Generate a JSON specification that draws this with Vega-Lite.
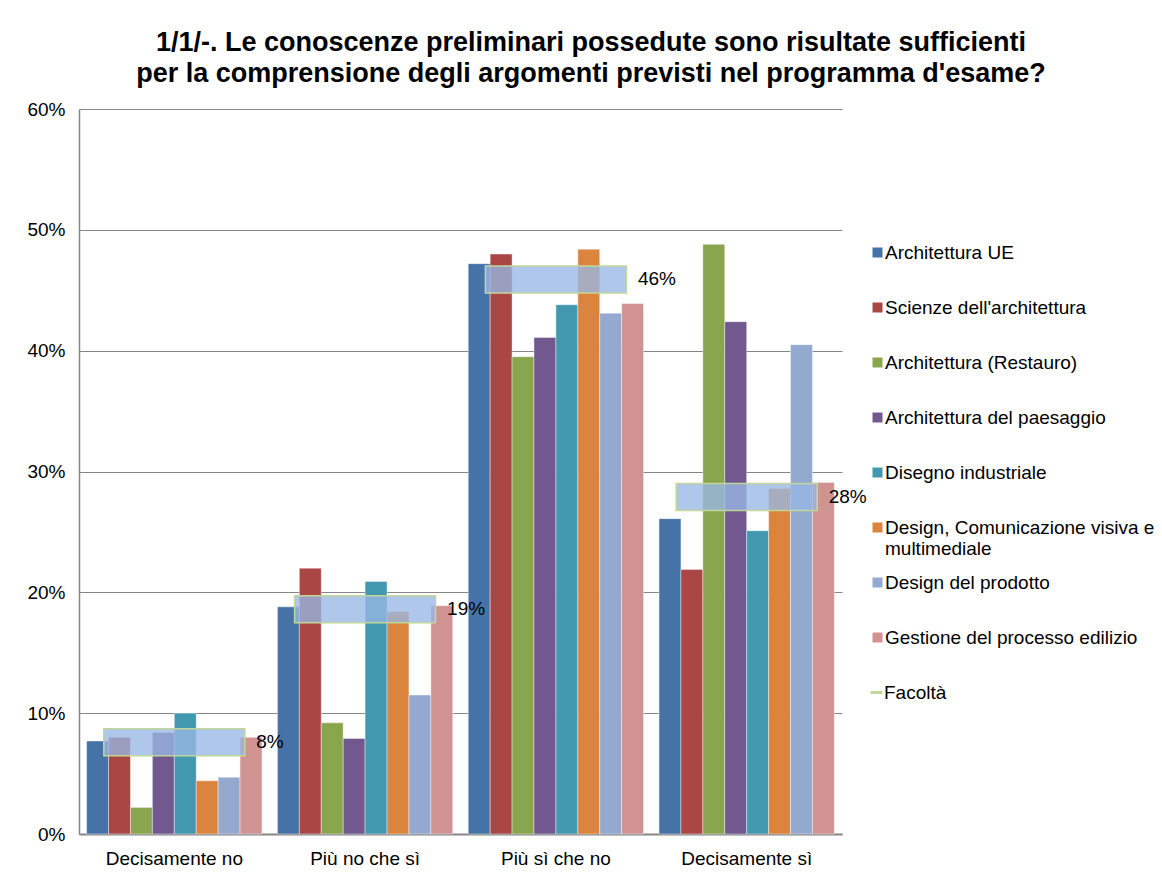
{
  "$schema": "https://vega.github.io/schema/vega-lite/v6.json",
  "width": 763,
  "height": 725,
  "autosize": {"type": "none"},
  "padding": {"left": 79, "top": 109, "right": 320, "bottom": 43},
  "background": "white",
  "title": {
    "text": ["1/1/-. Le conoscenze preliminari possedute sono risultate sufficienti", "per la comprensione degli argomenti previsti nel programma d'esame?"],
    "fontSize": 27, "font": "Liberation Sans", "fontWeight": "bold", "color": "black",
    "anchor": "middle", "frame": "bounds", "lineHeight": 31, "offset": 12
  },
  "config": {
    "view": {"stroke": null},
    "font": "Liberation Sans",
    "legend": {"labelFont": "Liberation Sans", "labelFontSize": 19, "labelColor": "black", "padding": 0}
  },
  "layer": [
    {
      "data": {"values": [
        {"risposta": "Decisamente no", "corso": "Architettura UE", "valore": 0.077},
        {"risposta": "Decisamente no", "corso": "Scienze dell'architettura", "valore": 0.080},
        {"risposta": "Decisamente no", "corso": "Architettura (Restauro)", "valore": 0.022},
        {"risposta": "Decisamente no", "corso": "Architettura del paesaggio", "valore": 0.084},
        {"risposta": "Decisamente no", "corso": "Disegno industriale", "valore": 0.100},
        {"risposta": "Decisamente no", "corso": "Design, Comunicazione visiva e multimediale", "valore": 0.044},
        {"risposta": "Decisamente no", "corso": "Design del prodotto", "valore": 0.047},
        {"risposta": "Decisamente no", "corso": "Gestione del processo edilizio", "valore": 0.080},
        {"risposta": "Più no che sì", "corso": "Architettura UE", "valore": 0.188},
        {"risposta": "Più no che sì", "corso": "Scienze dell'architettura", "valore": 0.220},
        {"risposta": "Più no che sì", "corso": "Architettura (Restauro)", "valore": 0.092},
        {"risposta": "Più no che sì", "corso": "Architettura del paesaggio", "valore": 0.079},
        {"risposta": "Più no che sì", "corso": "Disegno industriale", "valore": 0.209},
        {"risposta": "Più no che sì", "corso": "Design, Comunicazione visiva e multimediale", "valore": 0.184},
        {"risposta": "Più no che sì", "corso": "Design del prodotto", "valore": 0.115},
        {"risposta": "Più no che sì", "corso": "Gestione del processo edilizio", "valore": 0.189},
        {"risposta": "Più sì che no", "corso": "Architettura UE", "valore": 0.472},
        {"risposta": "Più sì che no", "corso": "Scienze dell'architettura", "valore": 0.480},
        {"risposta": "Più sì che no", "corso": "Architettura (Restauro)", "valore": 0.395},
        {"risposta": "Più sì che no", "corso": "Architettura del paesaggio", "valore": 0.411},
        {"risposta": "Più sì che no", "corso": "Disegno industriale", "valore": 0.438},
        {"risposta": "Più sì che no", "corso": "Design, Comunicazione visiva e multimediale", "valore": 0.484},
        {"risposta": "Più sì che no", "corso": "Design del prodotto", "valore": 0.431},
        {"risposta": "Più sì che no", "corso": "Gestione del processo edilizio", "valore": 0.439},
        {"risposta": "Decisamente sì", "corso": "Architettura UE", "valore": 0.261},
        {"risposta": "Decisamente sì", "corso": "Scienze dell'architettura", "valore": 0.219},
        {"risposta": "Decisamente sì", "corso": "Architettura (Restauro)", "valore": 0.488},
        {"risposta": "Decisamente sì", "corso": "Architettura del paesaggio", "valore": 0.424},
        {"risposta": "Decisamente sì", "corso": "Disegno industriale", "valore": 0.251},
        {"risposta": "Decisamente sì", "corso": "Design, Comunicazione visiva e multimediale", "valore": 0.286},
        {"risposta": "Decisamente sì", "corso": "Design del prodotto", "valore": 0.405},
        {"risposta": "Decisamente sì", "corso": "Gestione del processo edilizio", "valore": 0.291}
      ]},
      "mark": {"type": "bar", "stroke": "white", "strokeWidth": 0.6, "strokeOpacity": 0.7},
      "encoding": {
        "x": {
          "field": "risposta", "type": "nominal",
          "sort": ["Decisamente no", "Più no che sì", "Più sì che no", "Decisamente sì"],
          "scale": {"paddingInner": 0.081, "paddingOuter": 0.04},
          "axis": {"title": null, "labelFont": "Liberation Sans", "labelFontSize": 19, "labelColor": "black", "labelAngle": 0, "ticks": false, "domainColor": "#868686", "domainWidth": 2, "labelPadding": 15, "grid": false}
        },
        "xOffset": {"field": "corso", "type": "nominal", "sort": ["Architettura UE", "Scienze dell'architettura", "Architettura (Restauro)", "Architettura del paesaggio", "Disegno industriale", "Design, Comunicazione visiva e multimediale", "Design del prodotto", "Gestione del processo edilizio"], "scale": {"paddingInner": 0, "paddingOuter": 0}},
        "y": {
          "field": "valore", "type": "quantitative", "scale": {"domain": [0, 0.6], "nice": false},
          "axis": {"title": null, "labelFont": "Liberation Sans", "labelFontSize": 19, "labelColor": "black", "format": ".0%", "values": [0, 0.1, 0.2, 0.3, 0.4, 0.5, 0.6], "grid": true, "gridColor": "#868686", "gridWidth": 1.2, "domainColor": "#868686", "domainWidth": 1.5, "ticks": false, "labelPadding": 14}
        },
        "color": {
          "field": "corso", "type": "nominal",
          "scale": {
            "domain": ["Architettura UE", "Scienze dell'architettura", "Architettura (Restauro)", "Architettura del paesaggio", "Disegno industriale", "Design, Comunicazione visiva e multimediale", "Design del prodotto", "Gestione del processo edilizio"],
            "range": ["#4572A7", "#AA4643", "#89A54E", "#71588F", "#4198AF", "#DB843D", "#93A9CF", "#D19392"]
          },
          "legend": {
            "title": null, "orient": "none", "legendX": 789, "legendY": 134,
            "symbolType": "square", "symbolSize": 100, "symbolStrokeWidth": 0,
            "labelOffset": -2, "labelLimit": 300, "rowPadding": 14,
            "labelExpr": "datum.label == 'Design, Comunicazione visiva e multimediale' ? ['Design, Comunicazione visiva e', 'multimediale'] : [datum.label, ' ']"
          }
        }
      }
    },
    {
      "data": {"values": [
        {"risposta": "Decisamente no", "riferimento": "Facoltà", "valore": 0.076},
        {"risposta": "Più no che sì", "riferimento": "Facoltà", "valore": 0.186},
        {"risposta": "Più sì che no", "riferimento": "Facoltà", "valore": 0.459},
        {"risposta": "Decisamente sì", "riferimento": "Facoltà", "valore": 0.279}
      ]},
      "mark": {"type": "tick", "orient": "horizontal", "size": 141, "thickness": 27, "fill": "#98b7e4", "fillOpacity": 0.78, "strokeWidth": 1.5},
      "encoding": {
        "x": {"field": "risposta", "type": "nominal", "sort": ["Decisamente no", "Più no che sì", "Più sì che no", "Decisamente sì"]},
        "y": {"field": "valore", "type": "quantitative"},
        "stroke": {
          "field": "riferimento", "type": "nominal",
          "scale": {"domain": ["Facoltà"], "range": ["#c2d69a"]},
          "legend": {"title": null, "orient": "none", "legendX": 788, "legendY": 574, "symbolType": "stroke", "symbolSize": 144, "symbolStrokeWidth": 3, "labelOffset": -2}
        }
      }
    },
    {
      "data": {"values": [
        {"risposta": "Decisamente no", "riferimento": "Facoltà", "valore": 0.076},
        {"risposta": "Più no che sì", "riferimento": "Facoltà", "valore": 0.186},
        {"risposta": "Più sì che no", "riferimento": "Facoltà", "valore": 0.459},
        {"risposta": "Decisamente sì", "riferimento": "Facoltà", "valore": 0.279}
      ]},
      "mark": {"type": "text", "align": "left", "baseline": "middle", "dx": 82, "fontSize": 19, "color": "black"},
      "encoding": {
        "x": {"field": "risposta", "type": "nominal", "sort": ["Decisamente no", "Più no che sì", "Più sì che no", "Decisamente sì"]},
        "y": {"field": "valore", "type": "quantitative"},
        "text": {"field": "valore", "type": "quantitative", "format": ".0%"}
      }
    }
  ]
}
